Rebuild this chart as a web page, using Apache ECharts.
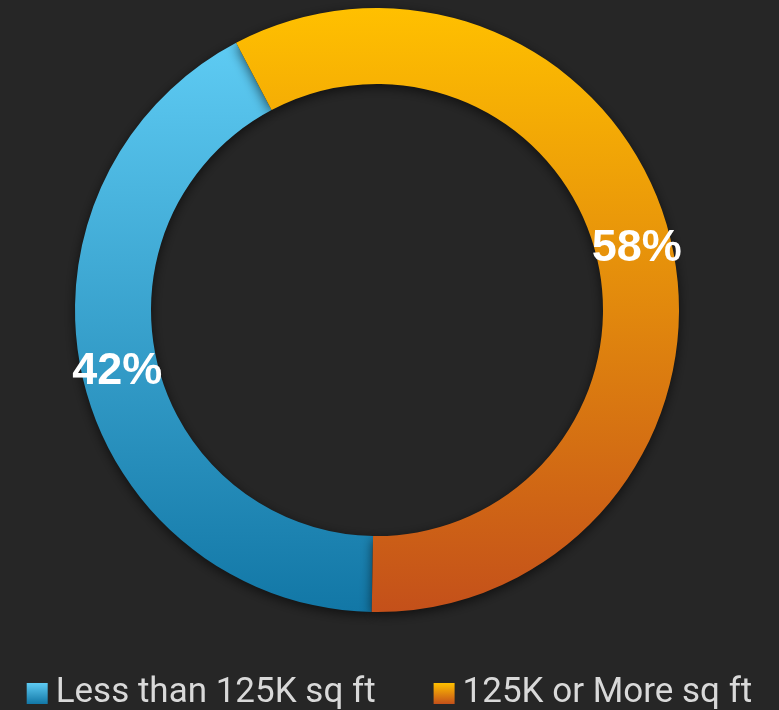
<!DOCTYPE html>
<html>
<head>
<meta charset="utf-8">
<script src="https://cdn.jsdelivr.net/npm/echarts@6/dist/echarts.min.js"></script>
<style>
  html, body { margin: 0; padding: 0; background: #262626; }
  #chart { width: 779px; height: 710px; }
</style>
</head>
<body>
<div id="chart"></div>
<script>
// Share of buildings by floor area
const categories = ['Less than 125K sq ft', '125K or More sq ft'];
const shares = [42, 58];
const gradients = [
  ['#5ECBF3', '#1277A6'],
  ['#FFC000', '#C4501A']
];

const chart = echarts.init(document.getElementById('chart'));

chart.setOption({
  backgroundColor: '#262626',
  animation: false,
  legend: {
    data: categories,
    top: 676,
    left: 'center',
    padding: 0,
    itemWidth: 21,
    itemHeight: 21,
    itemGap: 58,
    icon: 'rect',
    textStyle: {
      color: '#D9D9D9',
      fontFamily: 'Roboto',
      fontSize: 35,
      padding: [0, 0, 0, 3]
    }
  },
  series: [{
    type: 'pie',
    center: [377, 310],
    radius: [226, 302],
    startAngle: 269,
    clockwise: true,
    avoidLabelOverlap: false,
    itemStyle: {
      shadowBlur: 12,
      shadowColor: 'rgba(0,0,0,0.6)',
      shadowOffsetY: 3
    },
    label: {
      show: true,
      position: 'inside',
      formatter: '{c}%',
      color: '#FFFFFF',
      fontFamily: 'Liberation Sans',
      fontWeight: 'bold',
      fontSize: 45
    },
    labelLine: { show: false },
    data: categories.map((name, i) => ({
      name,
      value: shares[i],
      itemStyle: {
        color: new echarts.graphic.LinearGradient(0, 0, 0, 1, [
          { offset: 0, color: gradients[i][0] },
          { offset: 1, color: gradients[i][1] }
        ])
      }
    }))
  }]
});
</script>
</body>
</html>
